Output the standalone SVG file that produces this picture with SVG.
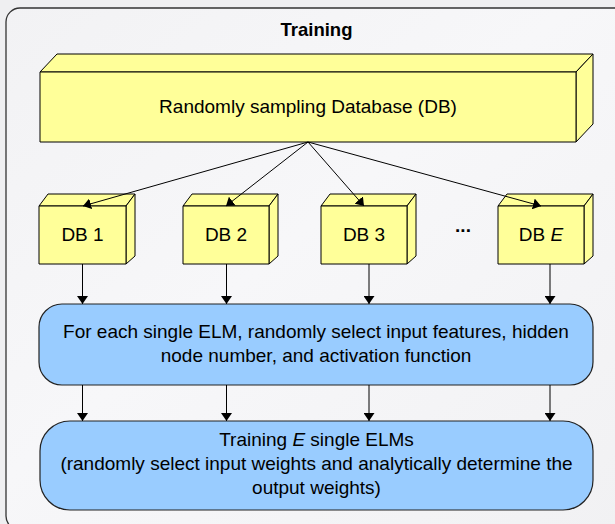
<svg xmlns="http://www.w3.org/2000/svg" width="615" height="524" viewBox="0 0 615 524">
  <defs>
    <linearGradient id="panelFill" x1="0" y1="0" x2="1" y2="1">
      <stop offset="0" stop-color="#f2f2f4"/>
      <stop offset="0.45" stop-color="#f7f7f9"/>
      <stop offset="1" stop-color="#f1f1f3"/>
    </linearGradient>
    <marker id="arrow" viewBox="0 0 8 11" refX="8" refY="5.5" markerWidth="8" markerHeight="11" markerUnits="userSpaceOnUse" orient="auto">
      <path d="M0,0 L8,5.5 L0,11 z" fill="#000"/>
    </marker>
    <style>
      .box { fill: #ffff99; stroke: #000; stroke-width: 1; stroke-linejoin: round; }
      .proc { fill: #99ccff; stroke: #222; stroke-width: 1.2; }
      .label { font-family: "Liberation Sans", Arial, sans-serif; font-size: 19px; fill: #000; text-anchor: middle; }
      .title { font-weight: bold; font-size: 18.5px; }
      .edge { stroke: #000; stroke-width: 1; fill: none; marker-end: url(#arrow); }
    </style>
  </defs>

  <!-- page background and panel -->
  <rect x="0" y="0" width="615" height="524" fill="#efeff1"/>
  <rect x="6" y="8" width="624" height="522" rx="14" fill="url(#panelFill)" stroke="#333" stroke-width="1.3"/>
  <text class="label title" x="316.5" y="36">Training</text>

  <!-- source database block -->
  <g id="database">
    <polygon class="box" points="40,72 57,54 593,54 576,72"/>
    <polygon class="box" points="576,72 593,54 593,124 576,142"/>
    <rect class="box" x="40" y="72" width="536" height="70"/>
    <text class="label" x="308" y="113">Randomly sampling Database (DB)</text>
  </g>

  <!-- sampled subsets -->
  <g id="db1">
    <polygon class="box" points="39,206 48,194 135,194 126,206"/>
    <polygon class="box" points="126,206 135,194 135,256 126,264"/>
    <rect class="box" x="39" y="206" width="87" height="58"/>
    <text class="label" x="82.5" y="241">DB 1</text>
  </g>
  <g id="db2">
    <polygon class="box" points="183,206 192,194 278,194 269,206"/>
    <polygon class="box" points="269,206 278,194 278,256 269,264"/>
    <rect class="box" x="183" y="206" width="86" height="58"/>
    <text class="label" x="226" y="241">DB 2</text>
  </g>
  <g id="db3">
    <polygon class="box" points="321,206 330,194 416,194 407,206"/>
    <polygon class="box" points="407,206 416,194 416,256 407,264"/>
    <rect class="box" x="321" y="206" width="86" height="58"/>
    <text class="label" x="364" y="241">DB 3</text>
  </g>
  <g id="ellipsis">
    <text class="label" x="463" y="232" font-weight="bold">...</text>
  </g>
  <g id="dbE">
    <polygon class="box" points="498,206 507,194 593,194 584,206"/>
    <polygon class="box" points="584,206 593,194 593,256 584,264"/>
    <rect class="box" x="498" y="206" width="86" height="58"/>
    <text class="label" x="541" y="241">DB <tspan font-style="italic">E</tspan></text>
  </g>

  <!-- processing stages -->
  <g id="select">
    <rect class="proc" x="39" y="304" width="554" height="81" rx="23"/>
    <text class="label" x="316" y="338">For each single ELM, randomly select input features, hidden</text>
    <text class="label" x="316" y="362">node number, and activation function</text>
  </g>
  <g id="train">
    <rect class="proc" x="40" y="421" width="553" height="89" rx="30"/>
    <text class="label" x="316.5" y="446">Training <tspan font-style="italic">E</tspan> single ELMs</text>
    <text class="label" x="316.5" y="470">(randomly select input weights and analytically determine the</text>
    <text class="label" x="316.5" y="494">output weights)</text>
  </g>

  <!-- connectors -->
  <g id="connectors">
    <line class="edge" x1="308" y1="142" x2="83" y2="206"/>
    <line class="edge" x1="308" y1="142" x2="226" y2="206"/>
    <line class="edge" x1="308" y1="142" x2="364" y2="206"/>
    <line class="edge" x1="308" y1="142" x2="541" y2="206"/>

    <line class="edge" x1="82.5" y1="264" x2="82.5" y2="304"/>
    <line class="edge" x1="226.5" y1="264" x2="226.5" y2="304"/>
    <line class="edge" x1="369" y1="264" x2="369" y2="304"/>
    <line class="edge" x1="550" y1="264" x2="550" y2="304"/>

    <line class="edge" x1="82.5" y1="385" x2="82.5" y2="421"/>
    <line class="edge" x1="226.5" y1="385" x2="226.5" y2="421"/>
    <line class="edge" x1="369" y1="385" x2="369" y2="421"/>
    <line class="edge" x1="550" y1="385" x2="550" y2="421"/>
  </g>
</svg>
